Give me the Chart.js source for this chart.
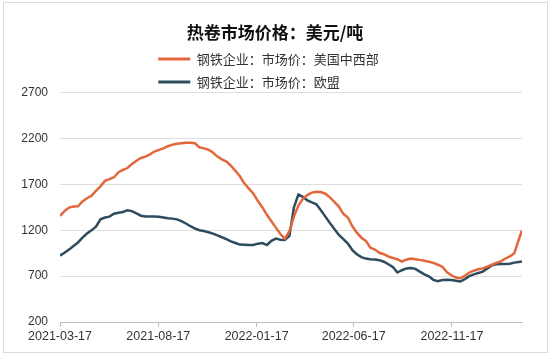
<!DOCTYPE html>
<html><head><meta charset="utf-8">
<script src="https://cdn.jsdelivr.net/npm/chart.js@4.4.0/dist/chart.umd.min.js"></script>
<style>
html,body{margin:0;padding:0;background:#fff;}
#wrap{position:relative;width:550px;height:357px;overflow:hidden;}
#frame{position:absolute;left:3px;top:2px;width:543px;height:349px;border:1px solid #dcdcdc;pointer-events:none;}
canvas{position:absolute;left:0;top:0;}
</style></head><body>
<div id="wrap"><canvas id="c" width="550" height="357"></canvas><div id="frame"></div></div>
<script>
const titleText = '热卷市场价格：美元/吨';
const seriesNames = ['钢铁企业：市场价：美国中西部', '钢铁企业：市场价：欧盟'];
const xTickLabels = ['2021-03-17', '2021-08-17', '2022-01-17', '2022-06-17', '2022-11-17'];
const yTicks = [200, 700, 1200, 1700, 2200, 2700];

const dates = [
 '2021-03-17','2021-03-24','2021-03-31','2021-04-07','2021-04-14','2021-04-21','2021-04-28','2021-05-05','2021-05-12','2021-05-19',
 '2021-05-26','2021-06-02','2021-06-09','2021-06-16','2021-06-23','2021-06-30','2021-07-07','2021-07-14','2021-07-21','2021-07-28',
 '2021-08-04','2021-08-11','2021-08-18','2021-08-25','2021-09-01','2021-09-08','2021-09-15','2021-09-22','2021-09-29','2021-10-06',
 '2021-10-13','2021-10-20','2021-10-27','2021-11-03','2021-11-10','2021-11-17','2021-11-24','2021-12-01','2021-12-08','2021-12-15',
 '2021-12-22','2021-12-29','2022-01-05','2022-01-12','2022-01-19','2022-01-26','2022-02-02','2022-02-09','2022-02-16','2022-02-23',
 '2022-03-02','2022-03-09','2022-03-16','2022-03-23','2022-03-30','2022-04-06','2022-04-13','2022-04-20','2022-04-27','2022-05-04',
 '2022-05-11','2022-05-18','2022-05-25','2022-06-01','2022-06-08','2022-06-15','2022-06-22','2022-06-29','2022-07-06','2022-07-13',
 '2022-07-20','2022-07-27','2022-08-03','2022-08-10','2022-08-17','2022-08-24','2022-08-31','2022-09-07','2022-09-14','2022-09-21',
 '2022-09-28','2022-10-05','2022-10-12','2022-10-19','2022-10-26','2022-11-02','2022-11-09','2022-11-16','2022-11-23','2022-11-30',
 '2022-12-07','2022-12-14','2022-12-21','2022-12-28','2023-01-04','2023-01-11','2023-01-18','2023-01-25','2023-02-01','2023-02-08',
 '2023-02-15','2023-02-22','2023-03-01','2023-03-06'
];

const usMidwest = [
 1358,1410,1448,1460,1463,1515,1550,1578,1630,1680,
 1740,1760,1780,1835,1860,1880,1925,1960,1990,2005,
 2030,2060,2078,2095,2118,2135,2145,2150,2155,2155,
 2150,2105,2095,2080,2050,2005,1975,1950,1905,1850,
 1790,1710,1655,1600,1520,1450,1370,1300,1230,1160,
 1110,1190,1350,1470,1545,1585,1612,1621,1618,1600,
 1560,1510,1460,1380,1340,1245,1175,1120,1085,1010,
 990,955,940,915,898,885,860,880,892,885,
 878,868,857,845,825,803,745,710,685,677,
 705,740,760,775,785,805,825,845,862,893,
 915,950,1100,1199
];

const euPrice = [
 925,955,990,1030,1068,1120,1165,1200,1240,1320,
 1340,1350,1382,1392,1400,1420,1410,1385,1360,1352,
 1352,1352,1348,1340,1333,1328,1320,1300,1275,1245,
 1220,1202,1192,1180,1165,1145,1125,1105,1080,1062,
 1045,1042,1040,1040,1055,1062,1040,1085,1110,1098,
 1095,1140,1450,1590,1565,1528,1505,1485,1420,1350,
 1280,1215,1150,1105,1055,985,940,908,892,884,
 882,875,858,830,800,740,765,785,790,780,
 750,720,698,660,645,659,660,659,650,642,
 668,700,720,735,750,785,818,830,832,832,
 835,848,855,860
];

const DAY = 86400000;
const t0 = Date.parse(dates[0]);
const dayOf = s => Math.round((Date.parse(s) - t0) / DAY);
const xTickDays = xTickLabels.map(dayOf);
const lastDay = dayOf(dates[dates.length - 1]);

const colors = ['#E2683C', '#2D4C5E'];
const values = [usMidwest, euPrice];

const layoutTweaks = {
  id: 'layoutTweaks',
  beforeInit(chart) {
    const fit = chart.legend.fit;
    chart.legend.fit = function () { fit.call(this); this.height -= 5.5; };
  },
  afterLayout(chart) {
    // widen the y-axis label area so long tick labels are not clipped
    chart.scales.y.left = 0;
  }
};

new Chart(document.getElementById('c'), {
  type: 'line',
  data: {
    datasets: seriesNames.map((name, i) => ({
      label: name,
      data: dates.map((d, j) => ({ x: dayOf(d), y: values[i][j] })),
      borderColor: colors[i],
      backgroundColor: colors[i],
      borderWidth: 2.5,
      pointRadius: 0,
      tension: 0,
      fill: false
    }))
  },
  options: {
    responsive: false,
    animation: false,
    layout: { padding: { left: 28, right: 28, top: 0, bottom: 11 } },
    plugins: {
      title: {
        display: true,
        text: titleText,
        color: '#111',
        font: { family: 'Noto Sans CJK SC', size: 17, weight: 'bold' },
        padding: { top: 22, bottom: 0 }
      },
      legend: {
        display: true,
        position: 'top',
        labels: {
          boxWidth: 32,
          boxHeight: 3,
          padding: 10,
          color: '#333',
          font: { family: 'Noto Sans CJK SC', size: 13 },
          generateLabels(chart) {
            const items = Chart.defaults.plugins.legend.labels.generateLabels(chart);
            items.forEach(it => {
              it.text = it.text + '\u3000'.repeat(Math.max(0, 15 - it.text.length));
              it.lineWidth = 0;
              it.strokeStyle = 'rgba(0,0,0,0)';
            });
            return items;
          }
        }
      },
      tooltip: { enabled: false }
    },
    scales: {
      x: {
        type: 'linear',
        min: 0,
        max: lastDay,
        afterBuildTicks: s => { s.ticks = xTickDays.map(v => ({ value: v })); },
        afterFit: s => { s.paddingLeft = 0; s.paddingRight = 0; },
        ticks: {
          autoSkip: false,
          maxRotation: 0,
          padding: 2,
          color: '#333',
          font: { family: 'Liberation Sans', size: 12.5 },
          callback: (v, i) => xTickLabels[i]
        },
        grid: { drawOnChartArea: false, drawTicks: true, tickLength: 5, color: '#bfbfbf' },
        border: { display: true, color: '#bfbfbf' }
      },
      y: {
        min: 200,
        max: 2700,
        afterBuildTicks: s => { s.ticks = yTicks.map(v => ({ value: v })); },
        afterFit: s => { s.width = 32; },
        ticks: {
          padding: 12,
          color: '#333',
          font: { family: 'Liberation Sans', size: 12 },
          callback: v => String(v)
        },
        grid: { drawTicks: false, color: '#dedede' },
        border: { display: false }
      }
    }
  },
  plugins: [layoutTweaks]
});
</script>
</body></html>
